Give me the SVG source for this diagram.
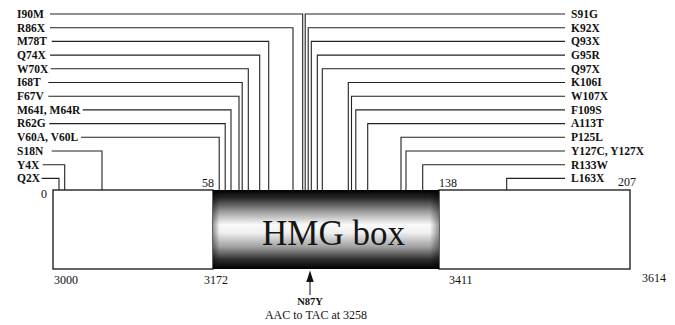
<svg xmlns="http://www.w3.org/2000/svg" width="675" height="325" viewBox="0 0 675 325">
<defs>
<linearGradient id="hmgV" x1="0" y1="0" x2="0" y2="1">
<stop offset="0" stop-color="#000"/>
<stop offset="0.1" stop-color="#262626"/>
<stop offset="0.28" stop-color="#a0a0a0"/>
<stop offset="0.44" stop-color="#fafafa"/>
<stop offset="0.54" stop-color="#f0f0f0"/>
<stop offset="0.72" stop-color="#a0a0a0"/>
<stop offset="0.88" stop-color="#2e2e2e"/>
<stop offset="1" stop-color="#000"/>
</linearGradient>
<linearGradient id="hmgH" x1="0" y1="0" x2="1" y2="0">
<stop offset="0" stop-color="#000" stop-opacity="0.4"/>
<stop offset="0.03" stop-color="#000" stop-opacity="0"/>
<stop offset="0.96" stop-color="#000" stop-opacity="0"/>
<stop offset="1" stop-color="#000" stop-opacity="0.4"/>
</linearGradient>
</defs>
<style>
.lab{font-family:"Liberation Serif","Times New Roman",serif;font-weight:bold;font-size:11.5px;fill:#111}
.num{font-family:"Liberation Serif","Times New Roman",serif;font-size:12px;fill:#111}
.con{fill:none;stroke:#222;stroke-width:1.1}
.box{fill:#fff;stroke:#111;stroke-width:1.3}
</style>
<rect width="675" height="325" fill="#fff"/>

<g id="connectors">
<path class="con" d="M50,14H302.7V190"/>
<path class="con" d="M50,27.7H293V190"/>
<path class="con" d="M51.7,41.4H268.7V190"/>
<path class="con" d="M50,55.1H259.7V190"/>
<path class="con" d="M50.7,68.8H248.3V190"/>
<path class="con" d="M48.3,82.5H242.2V190"/>
<path class="con" d="M48.3,96.2H239V190"/>
<path class="con" d="M82.7,109.9H231V190"/>
<path class="con" d="M49.3,123.6H225.2V190"/>
<path class="con" d="M81,137.3H219.2V190"/>
<path class="con" d="M51.7,151H102V190"/>
<path class="con" d="M42.7,164.7H64.7V190"/>
<path class="con" d="M41.7,178.4H59V190"/>

<path class="con" d="M565,14H305.2V190"/>
<path class="con" d="M565,27.7H308.2V190"/>
<path class="con" d="M565,41.4H311.3V190"/>
<path class="con" d="M565,55.1H317.3V190"/>
<path class="con" d="M565,68.8H322.3V190"/>
<path class="con" d="M565,82.5H348.3V190"/>
<path class="con" d="M565,96.2H351.5V190"/>
<path class="con" d="M565,109.9H355.8V190"/>
<path class="con" d="M565,123.6H367.7V190"/>
<path class="con" d="M565,137.3H401V190"/>
<path class="con" d="M565,151H406V190"/>
<path class="con" d="M565,164.7H422.7V190"/>
<path class="con" d="M565,178.4H506.7V190"/>
</g>

<g id="labels-left">
<text class="lab" x="17" y="17.8">I90M</text>
<text class="lab" x="17" y="31.5">R86X</text>
<text class="lab" x="17" y="45.2">M78T</text>
<text class="lab" x="17" y="58.9">Q74X</text>
<text class="lab" x="17" y="72.6">W70X</text>
<text class="lab" x="17" y="86.3">I68T</text>
<text class="lab" x="17" y="100">F67V</text>
<text class="lab" x="17" y="113.7">M64I, M64R</text>
<text class="lab" x="17" y="127.4">R62G</text>
<text class="lab" x="17" y="141.1">V60A, V60L</text>
<text class="lab" x="17" y="154.8">S18N</text>
<text class="lab" x="17" y="168.5">Y4X</text>
<text class="lab" x="17" y="182.2">Q2X</text>
</g>

<g id="labels-right">
<text class="lab" x="571" y="17.8">S91G</text>
<text class="lab" x="571" y="31.5">K92X</text>
<text class="lab" x="571" y="45.2">Q93X</text>
<text class="lab" x="571" y="58.9">G95R</text>
<text class="lab" x="571" y="72.6">Q97X</text>
<text class="lab" x="571" y="86.3">K106I</text>
<text class="lab" x="571" y="100">W107X</text>
<text class="lab" x="571" y="113.7">F109S</text>
<text class="lab" x="571" y="127.4">A113T</text>
<text class="lab" x="571" y="141.1">P125L</text>
<text class="lab" x="571" y="154.8">Y127C, Y127X</text>
<text class="lab" x="571" y="168.5">R133W</text>
<text class="lab" x="571" y="182.2">L163X</text>
</g>

<g id="box-left">
<rect class="box" x="53" y="190" width="160" height="79"/>
</g>
<g id="box-right">
<rect class="box" x="439" y="190" width="191" height="79"/>
</g>
<g id="hmg-box">
<rect x="213" y="190" width="226" height="79" fill="url(#hmgV)"/>
<rect x="213" y="190" width="226" height="79" fill="url(#hmgH)"/>
<text x="262" y="244.5" font-family="'Liberation Serif','Times New Roman',serif" font-size="35" fill="#151515">HMG box</text>
</g>

<g id="ticks">
<text class="num" x="41" y="197.5">0</text>
<text class="num" x="202" y="187">58</text>
<text class="num" x="439" y="187">138</text>
<text class="num" x="618" y="185.5">207</text>
<text class="num" x="54" y="284">3000</text>
<text class="num" x="204" y="284">3172</text>
<text class="num" x="449" y="283.5">3411</text>
<text class="num" x="642" y="282">3614</text>
</g>

<g id="n87y">
<line x1="310" y1="295" x2="310" y2="280" stroke="#222" stroke-width="1.1"/>
<polygon points="310,270.5 306.3,282 313.7,282" fill="#111"/>
<text class="lab" x="310" y="305" text-anchor="middle" style="font-size:10.5px">N87Y</text>
<text class="num" x="316" y="319" text-anchor="middle">AAC to TAC at 3258</text>
</g>
</svg>
